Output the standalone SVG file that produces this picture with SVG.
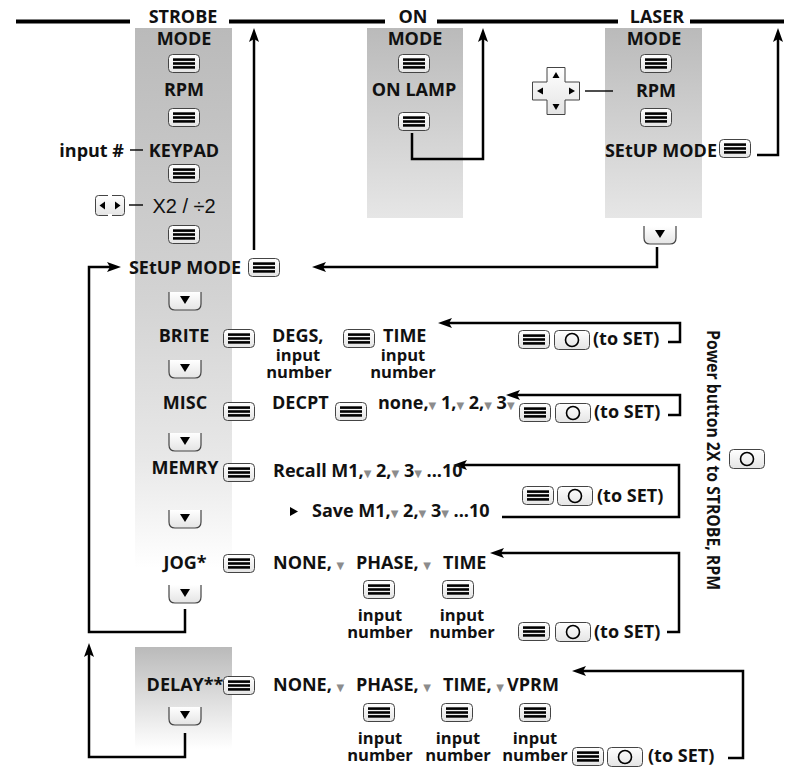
<svg xmlns="http://www.w3.org/2000/svg" xmlns:xlink="http://www.w3.org/1999/xlink" width="790" height="767" viewBox="0 0 790 767">
<style>
.t{font-family:'Open Sans','Liberation Sans',sans-serif;font-weight:700;font-size:18px;fill:#111}
.c{text-anchor:middle}
.e{text-anchor:end}
.s{font-size:16.5px}
.r{font-family:'Liberation Sans',sans-serif;font-weight:400;font-size:20px}
.tri{fill:#8c8c8c;font-family:'DejaVu Sans',sans-serif;font-size:10px;font-weight:400}
.ln{stroke:#000;stroke-width:2.5;fill:none}
.thin{stroke:#000;stroke-width:1.4;fill:none}
.top{stroke:#000;stroke-width:4}
</style>
<defs>
<linearGradient id="gLong" x1="0" y1="0" x2="0" y2="1">
<stop offset="0" stop-color="#bababa"/>
<stop offset="0.5" stop-color="#d3d3d3"/>
<stop offset="0.8" stop-color="#e8e8e8"/>
<stop offset="1" stop-color="#ffffff"/>
</linearGradient>
<linearGradient id="gShort" x1="0" y1="0" x2="0" y2="1">
<stop offset="0" stop-color="#bababa"/>
<stop offset="1" stop-color="#e6e6e6"/>
</linearGradient>
<linearGradient id="gDelay" x1="0" y1="0" x2="0" y2="1">
<stop offset="0" stop-color="#bababa"/>
<stop offset="1" stop-color="#ffffff"/>
</linearGradient>
<linearGradient id="gBtn" x1="0" y1="0" x2="0" y2="1">
<stop offset="0" stop-color="#ffffff"/>
<stop offset="1" stop-color="#e4e4e4"/>
</linearGradient>
<marker id="ah" markerWidth="14" markerHeight="10" refX="8" refY="5" orient="auto" markerUnits="userSpaceOnUse">
<path d="M0,0 L14,5 L0,10 L3,5 z" fill="#000"/>
</marker>
<g id="menu">
<rect x="0.5" y="0.5" width="31" height="18" rx="4" fill="url(#gBtn)" stroke="#444" stroke-width="1"/>
<rect x="5" y="4.3" width="22" height="2.6" fill="#000"/>
<rect x="5" y="8.2" width="22" height="2.6" fill="#000"/>
<rect x="5" y="12.1" width="22" height="2.6" fill="#000"/>
</g>
<g id="down">
<path d="M1,0 V12 Q1,18 7,18 H27 Q33,18 33,12 V0" fill="url(#gBtn)" stroke="#444" stroke-width="1.2"/>
<polygon points="12,4 22,4 17,12" fill="#000"/>
</g>
<g id="pwr">
<rect x="0.5" y="0.5" width="35" height="19" rx="4" fill="url(#gBtn)" stroke="#444" stroke-width="1"/>
<circle cx="18" cy="10" r="6.5" fill="none" stroke="#000" stroke-width="1.6"/>
</g>
</defs>

<g id="header">
<line class="top" x1="16" y1="21.5" x2="130" y2="21.5"/>
<line class="top" x1="229" y1="21.5" x2="385" y2="21.5"/>
<line class="top" x1="437" y1="21.5" x2="618" y2="21.5"/>
<line class="top" x1="690" y1="21.5" x2="784" y2="21.5"/>
<text class="t c" x="183" y="23" font-size="19">STROBE</text>
<text class="t c" x="413" y="23" font-size="19">ON</text>
<text class="t c" x="657" y="23" font-size="19">LASER</text>
</g>

<g id="panels">
<rect x="135" y="28" width="97" height="540" fill="url(#gLong)"/>
<rect x="367" y="28" width="96" height="190" fill="url(#gShort)"/>
<rect x="605" y="28" width="97" height="190" fill="url(#gShort)"/>
<rect x="135" y="647" width="97" height="102" fill="url(#gDelay)"/>
</g>

<g id="connectors">
<path class="ln" d="M254,250 V34" marker-end="url(#ah)"/>
<path class="ln" d="M412,133 V159 H483 V34" marker-end="url(#ah)"/>
<path class="ln" d="M757,155 H778 V34" marker-end="url(#ah)"/>
<path class="ln" d="M657,247 V267 H318" marker-end="url(#ah)"/>
<path class="ln" d="M185,609 V632 H89 V267 H115" marker-end="url(#ah)"/>
<path class="ln" d="M185,733 V757 H89 V649" marker-end="url(#ah)"/>
<path class="ln" d="M668,342 H680 V323 H444" marker-end="url(#ah)"/>
<path class="ln" d="M668,415 H680 V395 H512" marker-end="url(#ah)"/>
<path class="ln" d="M502,517 H679 V465 H459" marker-end="url(#ah)"/>
<path class="ln" d="M667,632 H679 V553 H496" marker-end="url(#ah)"/>
<path class="ln" d="M728,758 H743 V671 H578" marker-end="url(#ah)"/>
<line class="thin" x1="130" y1="150" x2="143" y2="150"/>
<line class="thin" x1="129" y1="205" x2="143" y2="205"/>
<line class="thin" x1="585" y1="91" x2="613" y2="91"/>
</g>

<g id="strobe-mode">
<text class="t c" x="184" y="45">MODE</text>
<use xlink:href="#menu" x="168" y="54"/>
</g>
<g id="strobe-rpm">
<text class="t c" x="184" y="96">RPM</text>
<use xlink:href="#menu" x="168" y="108"/>
</g>
<g id="strobe-keypad">
<text class="t c" x="184" y="157">KEYPAD</text>
<text class="t e" x="124" y="157">input #</text>
<use xlink:href="#menu" x="168" y="164"/>
</g>
<g id="strobe-x2">
<text class="t c r" x="184" y="213">X2 / ÷2</text>
<rect x="95.5" y="195.5" width="29" height="20" rx="3" fill="url(#gBtn)" stroke="#444" stroke-width="1"/>
<rect x="108" y="194" width="4" height="3" fill="#fff"/>
<rect x="108" y="214" width="4" height="3" fill="#fff"/>
<polygon points="105,201.5 105,209.5 99.5,205.5" fill="#000"/>
<polygon points="115,201.5 115,209.5 120.5,205.5" fill="#000"/>
<use xlink:href="#menu" x="168" y="225"/>
</g>
<g id="strobe-setup">
<text class="t c" x="185" y="274">SEtUP MODE</text>
<use xlink:href="#menu" x="248" y="258"/>
<use xlink:href="#down" x="168" y="292"/>
</g>
<g id="brite">
<text class="t c" x="184" y="342">BRITE</text>
<use xlink:href="#menu" x="223" y="329"/>
<use xlink:href="#down" x="168" y="360"/>
<text class="t" x="272" y="342">DEGS,</text>
<text class="t c s"><tspan x="298" y="361">input</tspan><tspan x="299" y="378">number</tspan></text>
<use xlink:href="#menu" x="343" y="329"/>
<text class="t" x="383" y="342">TIME</text>
<text class="t c s"><tspan x="403" y="361">input</tspan><tspan x="403" y="378">number</tspan></text>
<use xlink:href="#menu" x="518" y="330"/>
<use xlink:href="#pwr" x="554" y="330"/>
<text class="t" x="593" y="345">(to SET)</text>
</g>
<g id="misc">
<text class="t c" x="185" y="409">MISC</text>
<use xlink:href="#menu" x="223" y="402"/>
<use xlink:href="#down" x="168" y="433"/>
<text class="t" x="272" y="409">DECPT</text>
<use xlink:href="#menu" x="335" y="402"/>
<text class="t" x="378" y="409">none,<tspan class="tri">▼</tspan> 1,<tspan class="tri">▼</tspan> 2,<tspan class="tri">▼</tspan> 3<tspan class="tri">▼</tspan></text>
<use xlink:href="#menu" x="519" y="403"/>
<use xlink:href="#pwr" x="555" y="403"/>
<text class="t" x="594" y="418">(to SET)</text>
</g>
<g id="memry">
<text class="t c" x="185" y="474">MEMRY</text>
<use xlink:href="#menu" x="223" y="463"/>
<use xlink:href="#down" x="168" y="510"/>
<text class="t" x="273" y="477">Recall M1,<tspan class="tri">▼</tspan> 2,<tspan class="tri">▼</tspan> 3<tspan class="tri">▼</tspan> ...10</text>
<polygon points="290,507 298,511.5 290,516" fill="#000"/>
<text class="t" x="312" y="517">Save M1,<tspan class="tri">▼</tspan> 2,<tspan class="tri">▼</tspan> 3<tspan class="tri">▼</tspan> ...10</text>
<use xlink:href="#menu" x="522" y="486"/>
<use xlink:href="#pwr" x="557" y="486"/>
<text class="t" x="597" y="502">(to SET)</text>
</g>
<g id="jog">
<text class="t c" x="185" y="569">JOG*</text>
<use xlink:href="#menu" x="223" y="554"/>
<use xlink:href="#down" x="168" y="585"/>
<text class="t" x="273" y="569">NONE, <tspan class="tri">▼</tspan></text>
<text class="t" x="356" y="569">PHASE, <tspan class="tri">▼</tspan></text>
<text class="t" x="443" y="569">TIME</text>
<use xlink:href="#menu" x="363" y="580"/>
<use xlink:href="#menu" x="442" y="580"/>
<text class="t c s"><tspan x="380" y="621">input</tspan><tspan x="380" y="638">number</tspan></text>
<text class="t c s"><tspan x="462" y="621">input</tspan><tspan x="462" y="638">number</tspan></text>
<use xlink:href="#menu" x="518" y="622"/>
<use xlink:href="#pwr" x="555" y="622"/>
<text class="t" x="594" y="638">(to SET)</text>
</g>
<g id="delay">
<text class="t c" x="185" y="691">DELAY**</text>
<use xlink:href="#menu" x="223" y="676"/>
<use xlink:href="#down" x="168" y="707"/>
<text class="t" x="273" y="691">NONE, <tspan class="tri">▼</tspan></text>
<text class="t" x="356" y="691">PHASE, <tspan class="tri">▼</tspan></text>
<text class="t" x="443" y="691">TIME, <tspan class="tri">▼</tspan></text>
<text class="t" x="507" y="691">VPRM</text>
<use xlink:href="#menu" x="363" y="703"/>
<use xlink:href="#menu" x="441" y="703"/>
<use xlink:href="#menu" x="519" y="703"/>
<text class="t c s"><tspan x="380" y="744">input</tspan><tspan x="380" y="761">number</tspan></text>
<text class="t c s"><tspan x="458" y="744">input</tspan><tspan x="458" y="761">number</tspan></text>
<text class="t c s"><tspan x="535" y="744">input</tspan><tspan x="535" y="761">number</tspan></text>
<use xlink:href="#menu" x="572" y="747"/>
<use xlink:href="#pwr" x="607" y="747"/>
<text class="t" x="648" y="762">(to SET)</text>
</g>

<g id="on-mode">
<text class="t c" x="415" y="45">MODE</text>
<use xlink:href="#menu" x="398" y="54"/>
</g>
<g id="on-lamp">
<text class="t c" x="414" y="96">ON LAMP</text>
<use xlink:href="#menu" x="398" y="112"/>
</g>

<g id="laser-mode">
<text class="t c" x="654" y="45">MODE</text>
<use xlink:href="#menu" x="640" y="54"/>
</g>
<g id="laser-rpm">
<text class="t c" x="656" y="97">RPM</text>
<use xlink:href="#menu" x="640" y="108"/>
<g transform="translate(556,91)">
<path d="M-9,-23.5 H9 V-9 H23.5 V9 H9 V23.5 H-9 V9 H-23.5 V-9 H-9 Z" fill="url(#gBtn)" stroke="#444" stroke-width="1" stroke-linejoin="round"/>
<polygon points="-3.5,-13 3.5,-13 0,-19" fill="#000"/>
<polygon points="-3.5,13 3.5,13 0,19" fill="#000"/>
<polygon points="-13,-3.5 -13,3.5 -19,0" fill="#000"/>
<polygon points="13,-3.5 13,3.5 19,0" fill="#000"/>
</g>
</g>
<g id="laser-setup">
<text class="t e" x="717" y="157">SEtUP MODE</text>
<use xlink:href="#menu" x="719" y="139"/>
<use xlink:href="#down" x="643" y="226"/>
</g>

<g id="power-note">
<text class="t c" font-size="14.5" textLength="260" lengthAdjust="spacingAndGlyphs" transform="translate(707,460) rotate(90)">Power button 2X to STROBE, RPM</text>
<use xlink:href="#pwr" x="729" y="449"/>
</g>
</svg>
